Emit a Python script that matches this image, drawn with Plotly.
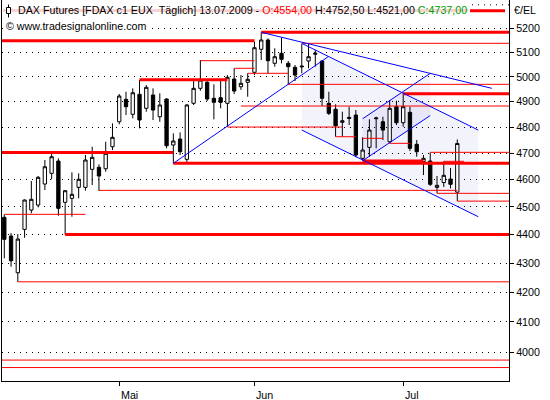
import math
import plotly.graph_objects as go

# ---------------- data ----------------
# daily FDAX candles, index 0 = 06.04.2009 ... index 67 = 13.07.2009
open_ = [4462.0, 4394.9, 4266.3, 4418.8, 4488.4, 4506.7, 4584.0, 4623.9, 4670.2, 4516.6,
         4531.2, 4571.7, 4571.7, 4638.9, 4646.4, 4641.1, 4724.5, 4821.1, 4909.4, 4850.2,
         4929.4, 4873.8, 4926.6, 4840.7, 4910.6, 4731.1, 4754.1, 4676.6, 4893.6, 4953.3,
         4977.5, 4913.4, 4915.8, 4893.6, 4990.8, 4959.7, 4977.5, 5018.0, 5112.3, 5151.0,
         5054.7, 5095.8, 5054.7, 5038.4, 5043.6, 5064.2, 5091.7, 5064.2, 4893.6, 4869.9,
         4818.8, 4838.3, 4847.4, 4680.4, 4722.2, 4832.8, 4821.1, 4743.7, 4880.1, 4817.3,
         4858.0, 4733.8, 4668.3, 4670.2, 4571.7, 4589.5, 4602.6, 4554.0]
high_ = [4472.9, 4405.6, 4402.1, 4527.0, 4595.1, 4613.8, 4674.0, 4699.4, 4680.4, 4562.0,
         4627.6, 4623.9, 4693.0, 4724.5, 4657.7, 4743.7, 4814.9, 4930.6, 4939.7, 4953.3,
         4986.7, 4966.6, 4953.3, 4933.3, 4913.4, 4776.1, 4779.9, 4890.8, 4986.7, 5068.2,
         4986.7, 4969.4, 4986.7, 5006.9, 5034.3, 5006.9, 5014.0, 5144.0, 5183.2, 5158.1,
         5116.4, 5160.6, 5064.2, 5047.7, 5135.6, 5135.6, 5109.4, 5068.2, 4939.7, 4889.6,
         4860.4, 4880.1, 4867.1, 4760.7, 4830.5, 4840.7, 4840.7, 4906.7, 4903.9, 4933.3,
         4880.1, 4750.3, 4693.0, 4703.2, 4613.8, 4669.1, 4643.7, 4752.5]
low_ = [4316.3, 4287.1, 4235.0, 4388.8, 4476.5, 4498.3, 4561.7, 4601.5, 4467.8, 4400.0,
        4464.2, 4531.2, 4559.2, 4580.3, 4558.1, 4629.9, 4711.9, 4811.0, 4847.4, 4834.4,
        4795.4, 4860.4, 4827.8, 4821.1, 4718.4, 4661.5, 4693.0, 4663.8, 4886.9, 4943.7,
        4902.7, 4830.5, 4873.8, 4801.6, 4930.6, 4947.3, 4919.8, 5006.9, 5068.2, 5014.0,
        5040.8, 5054.7, 4969.4, 4982.7, 5014.0, 5034.3, 5040.8, 4882.9, 4847.4, 4763.0,
        4763.0, 4808.2, 4684.2, 4671.3, 4686.5, 4718.4, 4750.3, 4737.5, 4808.2, 4801.6,
        4708.1, 4686.5, 4617.5, 4576.6, 4550.7, 4572.9, 4568.0, 4521.0]
close_ = [4383.2, 4307.9, 4384.2, 4525.0, 4527.5, 4608.9, 4648.6, 4686.5, 4494.6, 4559.2,
          4545.9, 4601.5, 4674.0, 4684.2, 4613.8, 4699.4, 4760.7, 4922.6, 4880.1, 4935.7,
          4827.8, 4957.3, 4867.1, 4886.9, 4728.4, 4746.4, 4705.5, 4886.9, 4953.3, 4986.7,
          4910.6, 4897.6, 4897.6, 4997.7, 4942.5, 4973.5, 4989.6, 5118.9, 5151.0, 5065.4,
          5081.7, 5071.1, 5040.8, 5006.9, 5040.8, 5081.7, 5095.8, 4913.4, 4854.0, 4805.5,
          4825.0, 4834.4, 4693.0, 4711.9, 4788.8, 4835.6, 4788.8, 4873.8, 4817.3, 4880.1,
          4718.4, 4705.5, 4680.4, 4582.9, 4579.2, 4616.4, 4582.9, 4737.0]

# month ticks (candle index of first trading day) and labels
month_idx = [17, 37, 59]
month_labels = ["Mai", "Jun", "Jul"]

# price axis ticks
y_ticks = [4000, 4100, 4200, 4300, 4400, 4500, 4600, 4700, 4800, 4900, 5000, 5100, 5200]
y_labels = [str(v) for v in y_ticks]

# horizontal support / resistance lines (price level, start index, end index)
thick_level = [5148.1, 5183.2, 4987.8, 4932.0, 4702.4, 4661.5, 4400.0]
thick_start = [-1, 38, 20, 59, -1, 25, 9]
thick_end = [37, 80, 33, 80, 25, 80, 80]

mid_level = [4671.3]
mid_start = [53]
mid_end = [62]

thin_level = [4472.9, 4560.6, 4235.0, 5137.2, 5065.4, 5034.3, 5014.0, 4969.4, 4882.9,
              4800.5, 4763.0, 4756.8, 4737.6, 4703.2, 4669.1, 4549.6, 4521.0, 3975.0, 3951.0]
thin_start = [0, 14, 2, 44, 29, 34, 36, 42, 35, 33, 49, 53, 57, 63, 65, 64, 67, -1, -1]
thin_end = [12, 67, 80, 80, 37, 37, 42, 80, 80, 50, 52, 56, 60, 80, 68, 80, 80, 80, 80]

# blue trend lines (start index, start price, end index, end price)
trend_x0 = [25, 44, 38, 44, 53, 53]
trend_p0 = [4661.5, 5137.0, 5183.2, 4788.8, 4832.8, 4671.3]
trend_x1 = [47.9, 70.1, 72.1, 70.1, 63, 63]
trend_p1 = [5081.7, 4788.8, 4953.3, 4464.2, 5014.0, 4845.4]

# shaded channels (index, price vertices)
outer_x = [44, 47.9, 70.1, 70.1, 44]
outer_p = [5007.4, 5081.7, 4788.8, 4464.2, 4788.8]
inner_x = [53, 63, 63, 53]
inner_p = [4832.8, 5014.0, 4845.4, 4671.3]

# ---------------- figure ----------------
FONT = "Liberation Sans"
idx = list(range(len(open_)))

W, H = 550, 400
ML, MR, MT, MB = 2, 41, 0, 19
PW, PH = W - ML - MR, H - MT - MB


def px(x):
    return (x - ML) / PW


def py(y):
    return 1 - (y - MT) / PH


def seg_xy(levels, starts, ends):
    xs, ys = [], []
    for lv, s, e in zip(levels, starts, ends):
        xs += [s, e, None]
        ys += [lv, lv, None]
    return xs, ys


fig = go.Figure()

# channel shading on the base subplot (drawn underneath the overlay)
SHADE = "rgba(30,30,200,0.055)"
fig.add_trace(go.Scatter(x=outer_x + [outer_x[0]], y=outer_p + [outer_p[0]], fill="toself",
                         fillcolor=SHADE, mode="lines", line=dict(width=0),
                         hoverinfo="skip", showlegend=False, yaxis="y"))
fig.add_trace(go.Scatter(x=inner_x + [inner_x[0]], y=inner_p + [inner_p[0]], fill="toself",
                         fillcolor=SHADE, mode="lines", line=dict(width=0),
                         hoverinfo="skip", showlegend=False, yaxis="y"))

# candles (overlay axis so they sit above the shading)
fig.add_trace(go.Candlestick(
    x=idx, open=open_, high=high_, low=low_, close=close_,
    increasing=dict(line=dict(color="black", width=1), fillcolor="white"),
    decreasing=dict(line=dict(color="black", width=1), fillcolor="black"),
    whiskerwidth=0, showlegend=False, hoverinfo="skip", yaxis="y2"))

# red horizontal lines
for lv, st, en, w in [(thick_level, thick_start, thick_end, 3),
                      (mid_level, mid_start, mid_end, 2.5),
                      (thin_level, thin_start, thin_end, 1)]:
    xs, ys = seg_xy(lv, st, en)
    fig.add_trace(go.Scatter(x=xs, y=ys, mode="lines", line=dict(color="#ff0000", width=w),
                             hoverinfo="skip", showlegend=False, yaxis="y2"))

# blue trend lines
bx, by = [], []
for a, b, c, d in zip(trend_x0, trend_p0, trend_x1, trend_p1):
    bx += [a, c, None]
    by += [b, d, None]
fig.add_trace(go.Scatter(x=bx, y=by, mode="lines", line=dict(color="#0000ff", width=1),
                         hoverinfo="skip", showlegend=False, yaxis="y2"))

x_range = [(ML - 4.3) / 6.761, (ML + PW - 4.3) / 6.761]
y_range = [math.log10(3908.2), math.log10(5320.6)]

shapes = [
    # pale band behind the header text
    dict(type="line", xref="paper", yref="paper", x0=px(3), x1=px(468), y0=py(10.5), y1=py(10.5),
         line=dict(color="#f9d3d3", width=3), layer="below"),
    # legend sample line
    dict(type="line", xref="paper", yref="paper", x0=px(470), x1=px(505), y0=py(10.8), y1=py(10.8),
         line=dict(color="#ff0000", width=3)),
    # small candle icon
    dict(type="line", xref="paper", yref="paper", x0=px(8.5), x1=px(8.5), y0=py(4.5), y1=py(17.5),
         line=dict(color="black", width=1)),
    dict(type="rect", xref="paper", yref="paper", x0=px(6.5), x1=px(10.5), y0=py(13.5), y1=py(7.5),
         line=dict(color="black", width=1), fillcolor="white"),
    # dotted top grid row visible at top right
    dict(type="line", xref="paper", yref="paper", x0=px(472), x1=1, y0=py(4.8), y1=py(4.8),
         line=dict(color="black", width=1, dash="1px,5px"), layer="below"),
]

title_html = ("DAX Futures [FDAX c1 EUX&nbsp;&nbsp;Täglich] 13.07.2009 - "
              "<span style='color:#ff0000'>O:4554,00</span> H:4752,50 L:4521,00 "
              "<span style='color:#00a000'>C:4737,00</span>")

annotations = [
    dict(text=title_html, xref="paper", yref="paper", x=px(16), y=py(10.5), xanchor="left",
         yanchor="middle", showarrow=False, font=dict(family=FONT, size=10.7, color="black")),
    dict(text="© www.tradesignalonline.com", xref="paper", yref="paper", x=px(4), y=py(26.5),
         xanchor="left", yanchor="middle", showarrow=False, bgcolor="white",
         font=dict(family=FONT, size=10.7, color="black")),
    dict(text="€/EL", xref="paper", yref="paper", x=px(512), y=py(10.5), xanchor="left",
         yanchor="middle", showarrow=False, font=dict(family=FONT, size=10.7, color="black")),
]
for mi, ml in zip(month_idx, month_labels):
    annotations.append(dict(text=ml, xref="x", yref="paper", x=mi, y=0, yshift=-14,
                            xanchor="left", yanchor="middle", showarrow=False,
                            font=dict(family=FONT, size=10.7, color="black")))

fig.update_layout(
    width=W, height=H, autosize=False,
    margin=dict(l=ML, r=MR, t=MT, b=MB, pad=0),
    paper_bgcolor="white", plot_bgcolor="white",
    font=dict(family=FONT, size=10.7, color="black"),
    showlegend=False,
    shapes=shapes, annotations=annotations,
    xaxis=dict(range=x_range, showgrid=False, zeroline=False, showline=True, linecolor="black",
               linewidth=1, mirror=False, ticks="outside", ticklen=4, tickcolor="black",
               tickvals=month_idx, showticklabels=False, rangeslider=dict(visible=False),
               fixedrange=True),
    yaxis=dict(type="log", range=y_range, side="right", tickmode="array", tickvals=y_ticks,
               ticktext=y_labels, ticks="outside", ticklen=4, tickcolor="black",
               showline=True, linecolor="black", linewidth=1, mirror=True,
               showgrid=True, gridcolor="black", gridwidth=1, griddash="1px,5px",
               zeroline=False, tickfont=dict(family=FONT, size=10.7, color="black"),
               fixedrange=True),
    yaxis2=dict(type="log", range=y_range, overlaying="y", side="right", visible=False,
                showgrid=False, zeroline=False, fixedrange=True),
)

fig.write_html("out.html", config={"displayModeBar": False},
               post_script="document.body.style.margin='0';")
